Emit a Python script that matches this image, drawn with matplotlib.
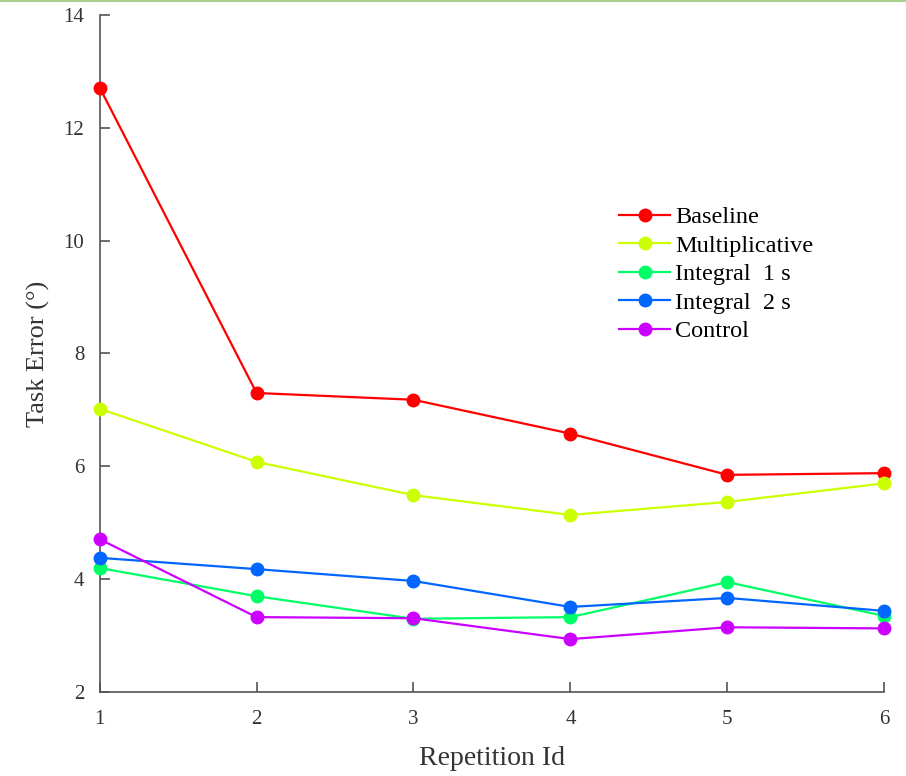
import matplotlib.pyplot as plt
from matplotlib.lines import Line2D

repetitions = [1, 2, 3, 4, 5, 6]
baseline = [12.71, 7.30, 7.18, 6.58, 5.85, 5.88]
multiplicative = [7.02, 6.08, 5.49, 5.14, 5.37, 5.70]
integral_1s = [4.20, 3.70, 3.30, 3.33, 3.95, 3.35]
integral_2s = [4.38, 4.18, 3.97, 3.51, 3.67, 3.44]
control = [4.71, 3.33, 3.31, 2.94, 3.15, 3.13]

series = [
    ("Baseline", baseline, "#ff0000"),
    ("Multiplicative", multiplicative, "#ccff00"),
    ("Integral  1 s", integral_1s, "#00ff66"),
    ("Integral  2 s", integral_2s, "#0066ff"),
    ("Control", control, "#cc00ff"),
]


def main():
    plt.rcParams["font.family"] = ["Liberation Serif", "DejaVu Serif"]

    fig = plt.figure(figsize=(9.06, 7.76), dpi=100)
    ax = fig.add_axes([0.110, 0.108, 0.866, 0.873])

    for label, values, color in series:
        ax.plot(repetitions, values, color=color, lw=1.6, marker="o",
                markersize=9, label=label, clip_on=False, zorder=3)

    ax.set_xlim(1, 6)
    ax.set_ylim(2, 14)
    ax.set_xticks(repetitions)
    ax.set_yticks([2, 4, 6, 8, 10, 12, 14])

    for side in ("top", "right"):
        ax.spines[side].set_visible(False)
    for side in ("left", "bottom"):
        ax.spines[side].set_color("#555555")
        ax.spines[side].set_linewidth(1.2)

    ax.tick_params(direction="in", length=7, width=1.2, color="#555555",
                   labelsize=15, labelcolor="#333333")
    ax.tick_params(axis="x", pad=13)
    ax.tick_params(axis="y", pad=11)

    ax.set_xlabel("Repetition Id", fontsize=20, color="#333333", labelpad=12)
    ax.set_ylabel("Task Error (°)", fontsize=19, color="#333333", labelpad=10)

    ax.legend(loc="upper left", bbox_to_anchor=(0.650, 0.732), frameon=False,
              fontsize=17.5, handlelength=2.1, handletextpad=0.2,
              labelspacing=0.27, borderaxespad=0)

    # thin green border line along the top of the image
    fig.add_artist(Line2D([0, 1], [0.999, 0.999], color="#a9d18e", lw=1.5,
                          transform=fig.transFigure))

    fig.savefig("out.png", dpi=100)
    plt.close(fig)


if __name__ == "__main__":
    main()
